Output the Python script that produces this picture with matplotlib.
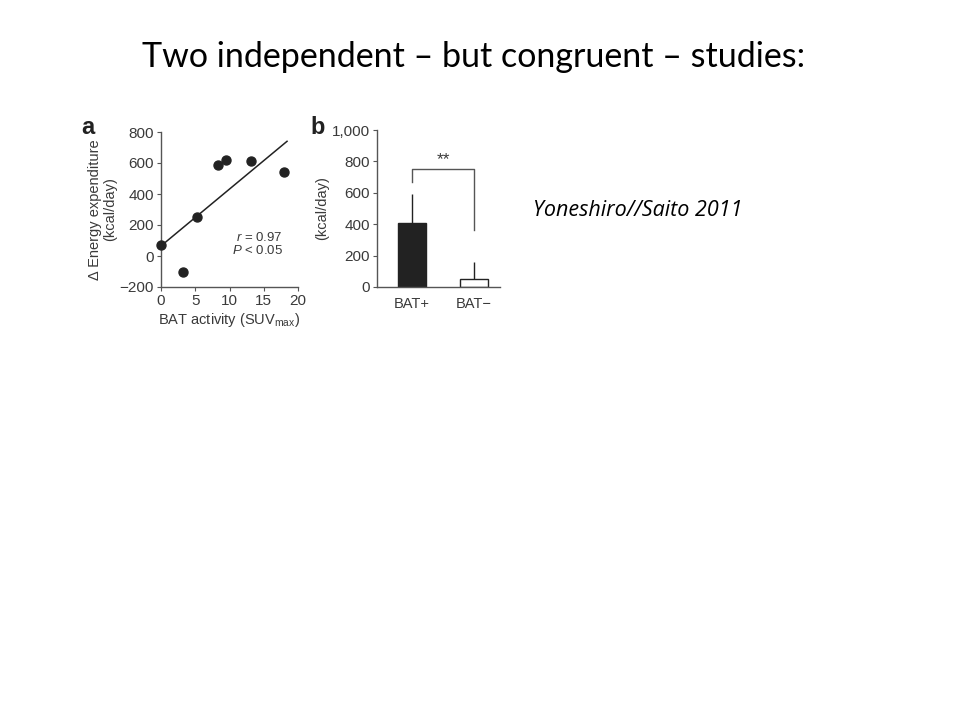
import matplotlib.pyplot as plt
import numpy as np

# panel a: BAT activity vs change in energy expenditure
suv_max = [0, 3.2, 5.3, 8.3, 9.5, 13.2, 18.0]
delta_ee = [70, -100, 250, 590, 620, 610, 545]
fit_x = [0, 18.4]
fit_y = [65, 740]

# panel b: group means
groups = ['BAT+', 'BAT\u2212']
means = [410, 50]
errors = [180, 110]

ink = '#222222'
txt = '#3a3a3a'

plt.rcParams['font.family'] = ['Liberation Sans', 'DejaVu Sans']
plt.rcParams['mathtext.fontset'] = 'custom'
plt.rcParams['mathtext.rm'] = 'Liberation Sans'
plt.rcParams['mathtext.it'] = 'Liberation Sans:italic'

fig = plt.figure(figsize=(9.6, 7.2), dpi=100)

fig.text(0.493, 0.921, 'Two independent \u2013 but congruent \u2013 studies:',
         ha='center', va='center', fontsize=24.5, family='Lato', color='black')
fig.text(0.555, 0.708, 'Yoneshiro//Saito 2011', ha='left', va='center',
         fontsize=15.5, family='Open Sans', style='italic', color='black')

# ---- panel a
ax = fig.add_axes([161 / 960, 1 - 287 / 720, 137 / 960, 155 / 720])
ax.scatter(suv_max, delta_ee, s=42, color=ink, zorder=3, clip_on=False)
ax.plot(fit_x, fit_y, color=ink, lw=1.1)
ax.set_xlim(0, 20)
ax.set_ylim(-200, 800)
ax.set_xticks([0, 5, 10, 15, 20])
ax.set_yticks([-200, 0, 200, 400, 600, 800])
ax.set_yticklabels(['\u2212200', '0', '200', '400', '600', '800'])
for s in ['top', 'right']:
    ax.spines[s].set_visible(False)
for s in ['left', 'bottom']:
    ax.spines[s].set_color('#555555')
    ax.spines[s].set_linewidth(1)
ax.tick_params(direction='out', length=3, width=0.8, color='#555555',
               labelsize=11, labelcolor=txt, pad=2)
ax.set_xlabel('BAT activity (SUV$_{\\mathrm{max}}$)', fontsize=10.5, color=txt, labelpad=2)
ax.set_ylabel('\u0394 Energy expenditure\n(kcal/day)', fontsize=10.5, color=txt,
              labelpad=2, linespacing=1.05)
ax.text(0.89, 0.28, '$r$ = 0.97\n$P$ < 0.05', transform=ax.transAxes, ha='right',
        va='center', fontsize=9.5, color=txt, linespacing=1.0)
fig.text(88 / 960, 1 - 127 / 720, 'a', fontsize=17, fontweight='bold',
         ha='center', va='center', color=ink)

# ---- panel b
bx = fig.add_axes([377 / 960, 1 - 287 / 720, 123 / 960, 157 / 720])
xpos = np.arange(len(groups))
bx.bar(xpos, means, width=0.46, color=[ink, 'white'], edgecolor=ink, lw=1,
       yerr=[[0, 0], errors], error_kw=dict(ecolor=ink, elinewidth=1, capsize=0))
bx.plot([0, 0, 1, 1], [670, 750, 750, 365], color='#555555', lw=1)
bx.text(0.5, 810, '**', ha='center', va='center', fontsize=12.5, color=txt)
bx.set_xlim(-0.565, 1.42)
bx.set_ylim(0, 1000)
bx.set_xticks(xpos)
bx.set_xticklabels(groups)
bx.set_yticks([0, 200, 400, 600, 800, 1000])
bx.set_yticklabels(['0', '200', '400', '600', '800', '1,000'])
for s in ['top', 'right']:
    bx.spines[s].set_visible(False)
for s in ['left', 'bottom']:
    bx.spines[s].set_color('#555555')
    bx.spines[s].set_linewidth(1)
bx.tick_params(axis='y', direction='out', length=3, width=0.8, color='#555555',
               labelsize=11, labelcolor=txt, pad=2)
bx.tick_params(axis='x', length=0, labelsize=10.5, labelcolor=txt, pad=7)
bx.set_ylabel('(kcal/day)', fontsize=10.5, color=txt, labelpad=2)
fig.text(318 / 960, 1 - 128 / 720, 'b', fontsize=17, fontweight='bold',
         ha='center', va='center', color=ink)

fig.savefig('out.png', dpi=100)
